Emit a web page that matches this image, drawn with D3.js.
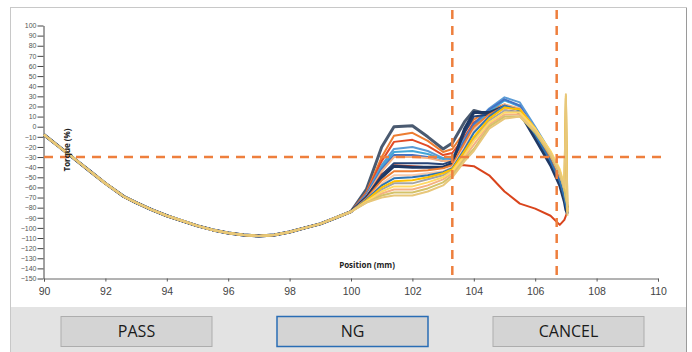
<!DOCTYPE html>
<html>
<head>
<meta charset="utf-8">
<script src="https://cdn.jsdelivr.net/npm/d3@7"></script>
<style>
  html, body { margin: 0; padding: 0; background: #fff; }
  svg { display: block; font-family: "Open Sans", "Noto Sans", sans-serif; }
</style>
</head>
<body>
<svg id="chart" width="692" height="352"></svg>
<script>
// shared start of every trace (90 .. 99.5 mm)
const baseX = [90, 90.5, 91, 91.5, 92, 92.6, 93, 93.5, 94, 94.5, 95, 95.5, 96, 96.5, 97, 97.5, 98, 98.5, 99, 99.5];
const baseY = [-8, -20, -32, -44, -56, -69, -75, -82, -88, -93, -98, -102, -105, -107, -108, -107, -104, -100, -96, -90];

// positions of the part where the traces split apart
const tailX = [100, 100.5, 101, 101.4, 102, 102.5, 103, 103.3, 103.7, 104, 104.5, 105, 105.5, 106, 106.5, 106.8, 106.95, 107.0, 107.05];

const traces = [
  { color: "#4a5a70", y: [-84, -62, -20, 0, 1, -10, -22, -16, 5, 16, 12, 20, 14, -8, -32, -52, -68, -76, -80] },
  { color: "#ed7d31", y: [-84, -65, -30, -9, -6, -14, -25, -22, -5, 7, 16, 22, 15, -5, -30, -50, -66, -74, -80] },
  { color: "#e24b26", y: [-84, -66, -34, -15, -13, -19, -28, -26, -10, 4, 14, 20, 13, -8, -34, -55, -70, -78, -82] },
  { color: "#5b9bd5", y: [-84, -67, -38, -22, -20, -24, -31, -30, -12, 2, 18, 29, 24, 0, -25, -45, -62, -72, -78] },
  { color: "#41a6d8", y: [-84, -68, -40, -25, -24, -27, -32, -31, -15, 0, 15, 26, 20, -3, -28, -48, -64, -74, -80] },
  { color: "#4472c4", y: [-84, -68, -42, -28, -28, -30, -34, -33, -14, 3, 17, 27, 21, -4, -30, -50, -66, -76, -82] },
  { color: "#f4b183", y: [-84, -69, -44, -30, -30, -31, -34, -34, -18, -2, 12, 22, 18, -2, -27, -47, -63, -72, -78] },
  { color: "#d9441c", y: [-84, -70, -47, -38, -39, -40, -40, -38, -38, -39, -48, -64, -76, -81, -88, -97, -92, -88, -84] },
  { color: "#264478", y: [-84, -70, -48, -36, -36, -36, -37, -34, -6, 10, 12, 18, 15, -10, -36, -56, -72, -80, -84] },
  { color: "#1f3864", y: [-84, -70, -50, -39, -40, -40, -40, -36, -2, 14, 14, 20, 14, -12, -38, -58, -74, -82, -86] },
  { color: "#ed7d31", y: [-84, -71, -53, -44, -44, -43, -41, -38, -16, 0, 12, 20, 17, -6, -32, -52, -67, -76, -82] },
  { color: "#f8cbad", y: [-84, -72, -56, -48, -48, -46, -44, -40, -20, -4, 10, 18, 16, -4, -28, -47, -63, -70, -76] },
  { color: "#2e75b6", y: [-84, -72, -58, -51, -50, -48, -45, -41, -22, -6, 10, 21, 16, -8, -34, -54, -70, -78, -84] },
  { color: "#a5a5a5", y: [-84, -73, -62, -56, -56, -52, -48, -43, -26, -12, 6, 16, 14, -4, -28, -46, -62, 28, -86] },
  { color: "#ffc000", y: [-84, -73, -60, -54, -53, -50, -46, -42, -24, -10, 8, 19, 17, -2, -26, -44, -60, 30, -84] },
  { color: "#f4b183", y: [-84, -74, -66, -62, -62, -58, -52, -46, -30, -18, 2, 12, 12, -4, -26, -44, -60, -70, -76] },
  { color: "#ffd966", y: [-84, -74, -64, -59, -59, -55, -50, -44, -28, -14, 4, 14, 14, -2, -24, -42, -58, -68, -74] },
  { color: "#d4c26a", y: [-84, -75, -68, -65, -65, -61, -55, -48, -32, -22, 0, 10, 10, -6, -28, -46, -62, -72, -78] },
  { color: "#e8c77a", y: [-84, -75, -70, -68, -68, -64, -58, -50, -34, -24, -2, 8, 10, -4, -26, -44, -60, 32, -88] }
];

const limitY = -30;
const limitX = [103.3, 106.7];
const yTicks = d3.range(-150, 101, 10);
const xTicks = [90, 92, 94, 96, 98, 100, 102, 104, 106, 108, 110];
const buttons = ["PASS", "NG", "CANCEL"];

const svg = d3.select("#chart");

// window frame + button strip
svg.append("rect").attr("x", 10.5).attr("y", 7.5).attr("width", 676).attr("height", 344)
  .attr("fill", "#fff").attr("stroke", "#c8c8c8");
svg.append("rect").attr("x", 11).attr("y", 307).attr("width", 675).attr("height", 45)
  .attr("fill", "#e3e3e3");
svg.append("line").attr("x1", 686.5).attr("x2", 686.5).attr("y1", 8).attr("y2", 352)
  .attr("stroke", "#9a9a9a");

const x = d3.scaleLinear().domain([90, 110]).range([44, 658]);
const y = d3.scaleLinear().domain([-150, 100]).range([278.5, 25.5]);

// axes
const gy = svg.append("g").attr("transform", "translate(43.5,0)")
  .call(d3.axisLeft(y).tickValues(yTicks).tickSize(6).tickSizeOuter(0).tickPadding(1));
gy.selectAll("text").attr("font-size", 7).attr("fill", "#555");
gy.selectAll("line").attr("stroke", "#444");
gy.select(".domain").attr("stroke", "#444");

const gx = svg.append("g").attr("transform", "translate(0,278.5)")
  .call(d3.axisBottom(x).tickValues(xTicks).tickSize(3).tickSizeOuter(3).tickPadding(6));
gx.selectAll("text").attr("font-size", 10.5).attr("fill", "#444");
gx.selectAll("line").attr("stroke", "#555");
gx.select(".domain").attr("stroke", "#666");

// traces; darker ones a bit wider so they edge the shared band
const line = d3.line().x(d => x(d[0])).y(d => y(d[1]));
svg.append("g").attr("fill", "none").attr("stroke-linejoin", "round")
  .selectAll("path")
  .data(traces)
  .join("path")
  .attr("stroke", d => d.color)
  .attr("stroke-width", (d, i) => i === 0 || i === 9 ? 3 : 2)
  .attr("d", d => line(baseX.map((v, i) => [v, baseY[i]]).concat(tailX.map((v, i) => [v, d.y[i]]))));

// limit lines
const dash = svg.append("g").attr("stroke", "#ee7f3d").attr("stroke-width", 2.5)
  .attr("stroke-dasharray", "9,7").attr("fill", "none");
dash.append("line").attr("x1", 44).attr("x2", 668).attr("y1", y(limitY)).attr("y2", y(limitY));
dash.selectAll(".v").data(limitX).join("line").attr("class", "v")
  .attr("x1", d => x(d)).attr("x2", d => x(d)).attr("y1", 10).attr("y2", 275);

// axis titles
svg.append("text").attr("transform", "translate(70,150) rotate(-90)")
  .attr("text-anchor", "middle").attr("font-size", 8).attr("font-weight", "bold").attr("fill", "#222")
  .text("Torque (%)");
svg.append("text").attr("x", 367).attr("y", 268)
  .attr("text-anchor", "middle").attr("font-size", 8).attr("font-weight", "bold").attr("fill", "#222")
  .text("Position (mm)");

// buttons
const bx = d3.scalePoint().domain(buttons).range([136.5, 568.5]);
const btn = svg.append("g").selectAll("g").data(buttons).join("g")
  .attr("transform", d => `translate(${bx(d)},331)`);
btn.append("rect").attr("x", -75.5).attr("y", -14.5).attr("width", 151).attr("height", 30)
  .attr("fill", "#d4d4d4")
  .attr("stroke", d => d === "NG" ? "#2a6db5" : "#adadad")
  .attr("stroke-width", d => d === "NG" ? 1.5 : 1);
btn.append("text").attr("text-anchor", "middle").attr("dy", "0.36em").attr("y", 0.5)
  .attr("font-size", 16).attr("fill", "#1a1a1a").text(d => d);
</script>
</body>
</html>
